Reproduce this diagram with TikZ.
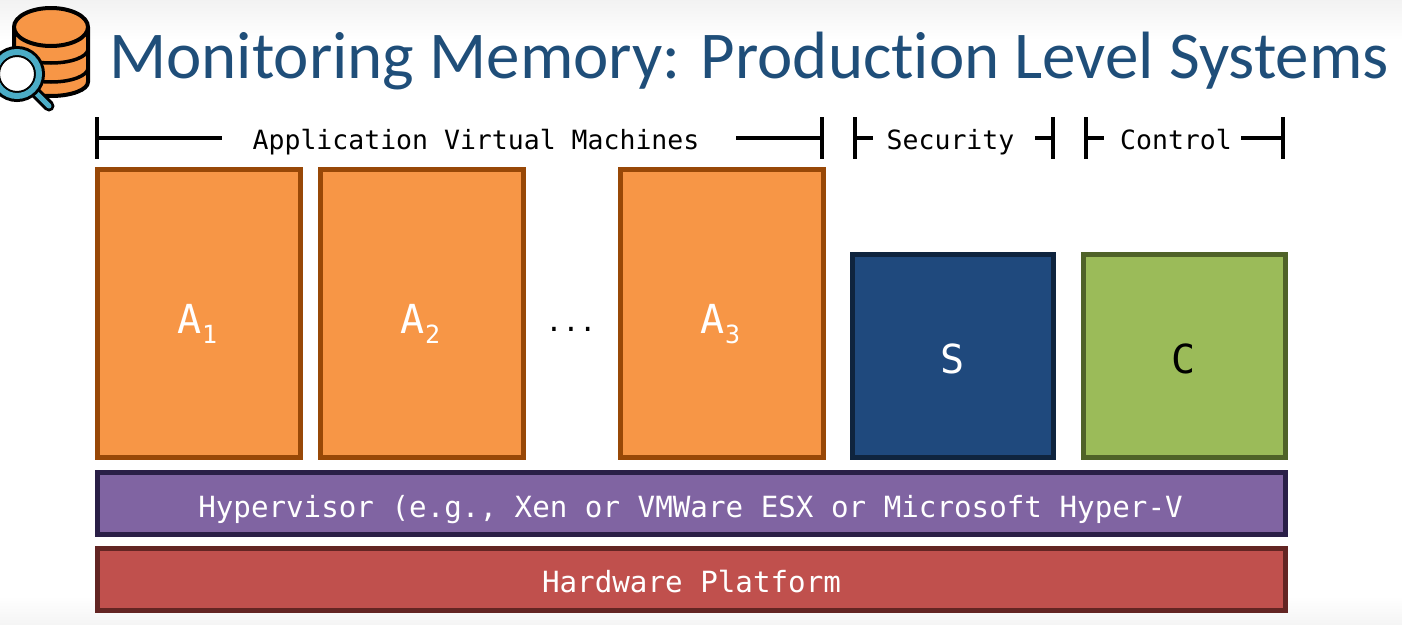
\documentclass[tikz,border=0pt]{standalone}
\usepackage{fontspec}
\setmainfont{Carlito}
\setmonofont{DejaVu Sans Mono}
\usetikzlibrary{calc}
\definecolor{titleblue}{HTML}{1F4E79}
\definecolor{orfill}{HTML}{F79646}
\definecolor{ordraw}{HTML}{984807}
\definecolor{blfill}{HTML}{1F497D}
\definecolor{bldraw}{HTML}{0F243E}
\definecolor{grfill}{HTML}{9BBB59}
\definecolor{grdraw}{HTML}{4F6228}
\definecolor{pufill}{HTML}{8064A2}
\definecolor{pudraw}{HTML}{2A1F47}
\definecolor{refill}{HTML}{C0504D}
\definecolor{redraw}{HTML}{632523}
\definecolor{lensblue}{HTML}{4BACC6}
\tikzset{
 x=1pt,y=-1pt,
 box/.style={draw,line width=5pt,inner sep=0pt,outer sep=0pt},
 vm/.style={box,fill=orfill,draw=ordraw,text=white,minimum width=203pt,minimum height=288pt},
 sec/.style={box,fill=blfill,draw=bldraw,text=white,minimum width=201pt,minimum height=203pt},
 ctl/.style={box,fill=grfill,draw=grdraw,text=black,minimum width=202pt,minimum height=203pt},
 bar/.style={box,minimum width=1188pt,minimum height=62pt,text=white,text depth=0pt,font=\ttfamily\fontsize{29.2}{29.2}\selectfont},
 big/.style={text depth=0pt,font=\ttfamily\fontsize{40}{40}\selectfont},
 hdr/.style={text=black,inner sep=0pt,anchor=base,font=\ttfamily\fontsize{26.5}{26.5}\selectfont},
 brk/.style={draw=black,line width=3.2pt},
 ico/.style={draw=black,line width=4pt,line join=round}
}
\newcommand{\subs}[1]{\raisebox{-10pt}{\fontsize{25}{25}\selectfont #1}\hspace*{3pt}}
\begin{document}
\begin{tikzpicture}
\useasboundingbox (0,0) rectangle (1402,624);
\shade[top color=black!5,bottom color=white] (0,0) rectangle (1402,40);
\shade[top color=white,bottom color=black!4] (0,596) rectangle (1402,624);
% icon
\fill[orfill] (14,27) -- (14,82) arc[start angle=180,end angle=0,x radius=37,y radius=14] -- (88,27) -- cycle;
\draw[ico] (14,27) -- (14,82) arc[start angle=180,end angle=0,x radius=37,y radius=14] -- (88,27);
\draw[ico,line width=3.5pt] (14,49) arc[start angle=180,end angle=0,x radius=37,y radius=14];
\draw[ico,line width=3.5pt] (14,68) arc[start angle=180,end angle=0,x radius=37,y radius=14];
\draw[ico,fill=orfill] (51,27) ellipse[x radius=37,y radius=19];
\draw[black,line width=11pt,line cap=round] (36,93) -- (49,106);
\draw[lensblue,line width=5pt,line cap=round] (36,93) -- (49,106);
\draw[black,line width=11pt,fill=white] (17,74) circle[radius=22.5];
\draw[lensblue,line width=6pt] (17,74) circle[radius=22];
\node[anchor=base west,inner sep=0pt,text=titleblue,font=\fontsize{66.9}{66.9}\selectfont] (title) at (109,78) {\addfontfeature{Ligatures=NoCommon}Monitoring Memory: Production Level Systems};
% boxes
\node[vm,big,text height=39pt] (a1) at (199,313.5) {A\subs{1}};
\node[vm,big,text height=39pt] (a2) at (422,313.5) {A\subs{2}};
\node[vm,big,text height=39pt] (a3) at (722,313.5) {A\subs{3}};
\node[hdr,font=\ttfamily\fontsize{28}{28}\selectfont] (dots) at (571,331) {...};
\node[sec,big,text height=34pt] (s) at (953,356) {S};
\node[ctl,big,text height=34pt] (c) at (1184,356) {C};
\node[bar,fill=pufill,draw=pudraw,text height=28pt] (hv) at (691.5,503) {Hypervisor (e.g., Xen or VMWare ESX or Microsoft Hyper-V\hspace*{2pt}};
\node[bar,fill=refill,draw=redraw,text height=26pt] (hw) at (691.5,579) {Hardware Platform};
% headers
\node[hdr] (lapp) at (476,149) {Application Virtual Machines};
\node[hdr] (lsec) at (950.5,149) {Security};
\node[hdr] (lctl) at (1176,149) {Control};
\coordinate (al) at (97,138); \coordinate (ae) at (222,138);
\coordinate (ar) at (822,138); \coordinate (as) at (736,138);
\coordinate (sl) at (855,138); \coordinate (se) at (873,138);
\coordinate (sr) at (1053,138); \coordinate (ss) at (1035,138);
\coordinate (cl) at (1086,138); \coordinate (ce) at (1104,138);
\coordinate (cr) at (1283,138); \coordinate (cs) at (1241,138);
\foreach \p/\q in {al/ae,ar/as,sl/se,sr/ss,cl/ce,cr/cs}{
  \draw[brk] (\p) -- (\q);
  \draw[brk,line width=4.2pt] ($(\p)+(0,-21)$) -- ($(\p)+(0,21)$);
}
\end{tikzpicture}
\end{document}
